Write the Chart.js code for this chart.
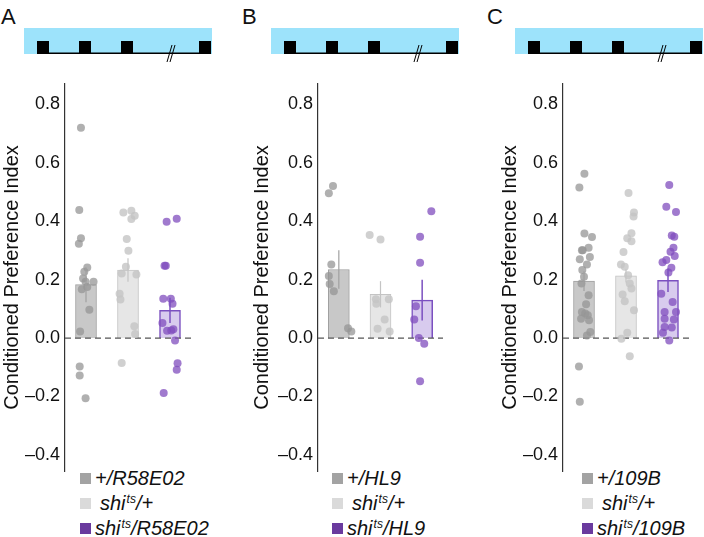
<!DOCTYPE html>
<html>
<head>
<meta charset="utf-8">
<script src="https://cdn.jsdelivr.net/npm/chart.js@4.4.1/dist/chart.umd.min.js"></script>
<style>
  body { margin: 0; background: #fff; font-family: "Liberation Sans", Arial, sans-serif; }
  #wrap { position: relative; width: 704px; height: 537px; overflow: hidden; }
  #wrap canvas { position: absolute; top: 0; }
  .letter { position: absolute; top: 4px; font-size: 22px; color: #111; }
  .sched { position: absolute; top: 28px; }
  .legend { position: absolute; top: 466px; font-style: italic; font-size: 20px; color: #111; }
  .legend .row { display: flex; align-items: center; height: 25px; white-space: nowrap; }
  .legend .sw { display: inline-block; width: 11px; height: 11px; margin-right: 4px; }
  .legend sup { font-size: 12px; position: relative; top: -7px; vertical-align: baseline; margin-left: 1px; }
</style>
</head>
<body>
<div id="wrap"></div>
<script>
// y axis ticks
const yTicks = [-0.4, -0.2, 0, 0.2, 0.4, 0.6, 0.8];

// panel A  (+/R58E02, shi/+, shi/R58E02)
const legendA = ['+/R58E02', 'shi^ts/+', 'shi^ts/R58E02'];
const meanA = [0.183, 0.233, 0.095];
const semA = [0.060, 0.040, 0.043];
const pointsA = [
  [0.72, 0.439, 0.342, 0.323, 0.242, 0.227, 0.204, 0.193, 0.193, 0.175, 0.167, 0.097, 0.023, -0.097, -0.128, -0.206],
  [0.430, 0.436, 0.419, 0.408, 0.339, 0.299, 0.244, 0.221, 0.218, 0.152, 0.132, 0.041, 0.014, -0.085],
  [0.398, 0.409, 0.248, 0.248, 0.135, 0.135, 0.118, 0.052, 0.025, 0.026, 0.030, -0.008, -0.086, -0.108, -0.188]
];
const jitterA = [
  [-0.12, -0.16, -0.12, -0.17, 0.03, -0.04, -0.07, -0.01, 0.18, 0.03, -0.10, 0.08, -0.14, -0.15, -0.15, -0.01],
  [-0.11, 0.08, 0.16, 0.08, -0.03, 0.01, -0.05, -0.15, 0.20, -0.20, -0.18, 0.15, 0.17, -0.15],
  [-0.08, 0.16, -0.13, -0.10, -0.16, 0.02, 0.06, -0.18, -0.07, 0.03, 0.08, 0.12, 0.18, 0.16, -0.15]
];

// panel B  (+/HL9, shi/+, shi/HL9)
const legendB = ['+/HL9', 'shi^ts/+', 'shi^ts/HL9'];
const meanB = [0.235, 0.150, 0.130];
const semB = [0.066, 0.045, 0.070];
const pointsB = [
  [0.496, 0.521, 0.252, 0.213, 0.185, 0.160, 0.034, 0.023],
  [0.353, 0.338, 0.133, 0.133, 0.118, 0.064, 0.032, 0.023],
  [0.434, 0.347, 0.258, 0.109, 0.064, 0.000, -0.019, -0.148]
];
const jitterB = [
  [-0.24, -0.14, -0.18, -0.24, -0.22, -0.12, 0.22, 0.30],
  [-0.26, 0.00, -0.11, 0.20, -0.10, 0.10, -0.07, 0.22],
  [0.22, -0.05, -0.05, -0.15, -0.19, -0.08, 0.05, -0.05]
];

// panel C  (+/109B, shi/+, shi/109B)
const legendC = ['+/109B', 'shi^ts/+', 'shi^ts/109B'];
const meanC = [0.195, 0.213, 0.198];
const semC = [0.034, 0.023, 0.040];
const pointsC = [
  [0.563, 0.516, 0.358, 0.346, 0.301, 0.301, 0.309, 0.270, 0.278, 0.252, 0.233, 0.210, 0.187, 0.147, 0.116, 0.089, 0.084, 0.078, 0.066, 0.061, 0.021, 0.009, -0.097, -0.218],
  [0.497, 0.430, 0.416, 0.359, 0.342, 0.332, 0.295, 0.252, 0.244, 0.215, 0.187, 0.170, 0.149, 0.126, 0.095, 0.018, -0.002, -0.062],
  [0.524, 0.450, 0.432, 0.351, 0.347, 0.309, 0.296, 0.281, 0.260, 0.267, 0.241, 0.225, 0.152, 0.124, 0.089, 0.089, 0.066, 0.064, 0.038, 0.036, 0.018, -0.008]
];
const jitterC = [
  [0.01, -0.11, 0.01, 0.19, -0.05, -0.03, 0.11, -0.10, 0.14, 0.07, -0.04, 0.00, -0.06, 0.11, 0.05, -0.05, 0.03, 0.09, -0.07, 0.12, 0.15, 0.07, -0.12, -0.10],
  [0.06, 0.19, 0.18, 0.13, 0.03, 0.13, -0.06, -0.12, -0.03, 0.05, 0.09, 0.13, -0.08, -0.03, 0.19, 0.03, -0.11, 0.09],
  [0.03, -0.04, 0.19, 0.09, 0.15, 0.13, 0.06, 0.16, -0.13, -0.04, 0.08, 0.01, -0.16, 0.11, -0.08, 0.19, -0.08, 0.14, -0.08, 0.09, -0.12, 0.03]
];

const barFill = ['#c8c8c8', '#e6e6e6', '#d8cbee'];
const barLine = ['#a0a0a0', '#c4c4c4', '#7b50c0'];
const dotColor = ['rgba(150,150,150,0.75)', 'rgba(196,196,196,0.8)', 'rgba(128,78,190,0.75)'];
const swatch = ['#a3a3a3', '#dadada', '#6a3a9e'];
const FONT = '"Liberation Sans", Arial, sans-serif';

const wrap = document.getElementById('wrap');

// zero line + error bars
const extras = {
  id: 'extras',
  afterDatasetDraw(chart, args) {
    if (args.index !== 0) return;
    const ctx = chart.ctx, y = chart.scales.y, area = chart.chartArea;
    const y0 = y.getPixelForValue(0);
    ctx.save();
    ctx.strokeStyle = '#555';
    ctx.lineWidth = 1.2;
    ctx.setLineDash([6, 4]);
    ctx.beginPath();
    ctx.moveTo(area.left, y0);
    ctx.lineTo(area.right, y0);
    ctx.stroke();
    ctx.restore();
  },
  afterDatasetsDraw(chart) {
    const ctx = chart.ctx, y = chart.scales.y;
    const ds = chart.data.datasets[0];
    chart.getDatasetMeta(0).data.forEach((bar, i) => {
      const m = ds.data[i].y, e = ds.errors[i];
      ctx.save();
      ctx.strokeStyle = barLine[i];
      ctx.lineWidth = i === 2 ? 1.5 : 1.2;
      ctx.beginPath();
      ctx.moveTo(bar.x, y.getPixelForValue(m - e));
      ctx.lineTo(bar.x, y.getPixelForValue(m + e));
      ctx.stroke();
      ctx.restore();
    });
  }
};

function schedule(left) {
  const sq = [13, 55, 97, 175].map(x => `<rect x="${x}" y="13" width="12" height="13" fill="#000"/>`).join('');
  return `<svg class="sched" style="left:${left}px" width="190" height="36">
    <rect x="0" y="0" width="188" height="26" fill="#9de3fb"/>
    <line x1="13" y1="25.3" x2="187" y2="25.3" stroke="#000" stroke-width="1.4"/>
    ${sq}
    <line x1="148" y1="17" x2="143" y2="34" stroke="#000" stroke-width="1"/>
    <line x1="151" y1="17" x2="146" y2="34" stroke="#000" stroke-width="1"/>
  </svg>`;
}

function legendHtml(labels, left) {
  const rows = labels.map((t, i) => {
    const txt = t.replace('^ts', '<sup>ts</sup>');
    const pad = i === 1 ? 'padding-left:5px' : '';
    return `<div class="row"><span class="sw" style="background:${swatch[i]}"></span><span style="${pad}">${txt}</span></div>`;
  }).join('');
  return `<div class="legend" style="left:${left}px">${rows}</div>`;
}

function makePanel(p) {
  wrap.insertAdjacentHTML('beforeend', `<div class="letter" style="left:${p.letterX}px">${p.letter}</div>`);
  wrap.insertAdjacentHTML('beforeend', schedule(p.schedX));
  wrap.insertAdjacentHTML('beforeend', legendHtml(p.legend, p.legendX));

  const cv = document.createElement('canvas');
  cv.width = p.width;
  cv.height = 537;
  cv.style.left = p.left + 'px';
  wrap.appendChild(cv);

  const datasets = [{
    type: 'bar',
    data: p.means.map((m, i) => ({ x: i, y: m })),
    errors: p.sems,
    backgroundColor: barFill,
    borderColor: barLine,
    borderWidth: [1, 1, 1.5],
    barThickness: 21,
    grouped: false,
    xAxisID: 'x',
    order: 2
  }];
  p.points.forEach((vals, g) => {
    datasets.push({
      type: 'scatter',
      data: vals.map((v, k) => ({ x: g + p.jitter[g][k], y: v })),
      backgroundColor: dotColor[g],
      borderWidth: 0,
      pointRadius: 4,
      xAxisID: 'x',
      order: 1
    });
  });

  new Chart(cv.getContext('2d'), {
    data: { datasets: datasets },
    options: {
      responsive: false,
      animation: false,
      layout: { padding: { left: p.padLeft, right: p.padRight, top: 84, bottom: 66 } },
      plugins: { legend: { display: false }, tooltip: { enabled: false } },
      scales: {
        x: { type: 'linear', display: false, min: -0.5, max: 2.5, offset: false },
        y: {
          min: -0.455,
          max: 0.87,
          afterBuildTicks: s => { s.ticks = yTicks.map(v => ({ value: v })); },
          afterFit: s => { s.width = p.axisW; },
          grid: { display: false, drawTicks: false },
          border: { display: true, color: '#333', width: 1.2 },
          ticks: {
            padding: 5,
            color: '#111',
            font: { size: 18, family: FONT },
            callback: v => (v < 0 ? '\u2013' : '') + Math.abs(v).toFixed(1)
          },
          title: {
            display: true,
            text: 'Conditioned Preference Index',
            color: '#111',
            font: { size: 20, family: FONT },
            padding: 0
          }
        }
      }
    },
    plugins: [extras]
  });
}

makePanel({ letter: 'A', letterX: 1, schedX: 24, legendX: 80, left: 0, width: 235, padLeft: 0, padRight: 44, axisW: 65,
  legend: legendA, means: meanA, sems: semA, points: pointsA, jitter: jitterA });
makePanel({ letter: 'B', letterX: 242, schedX: 271, legendX: 332, left: 235, width: 235, padLeft: 15, padRight: 27, axisW: 68,
  legend: legendB, means: meanB, sems: semB, points: pointsB, jitter: jitterB });
makePanel({ letter: 'C', letterX: 487, schedX: 515, legendX: 582, left: 470, width: 234, padLeft: 28, padRight: 15, axisW: 65,
  legend: legendC, means: meanC, sems: semC, points: pointsC, jitter: jitterC });
</script>
</body>
</html>
